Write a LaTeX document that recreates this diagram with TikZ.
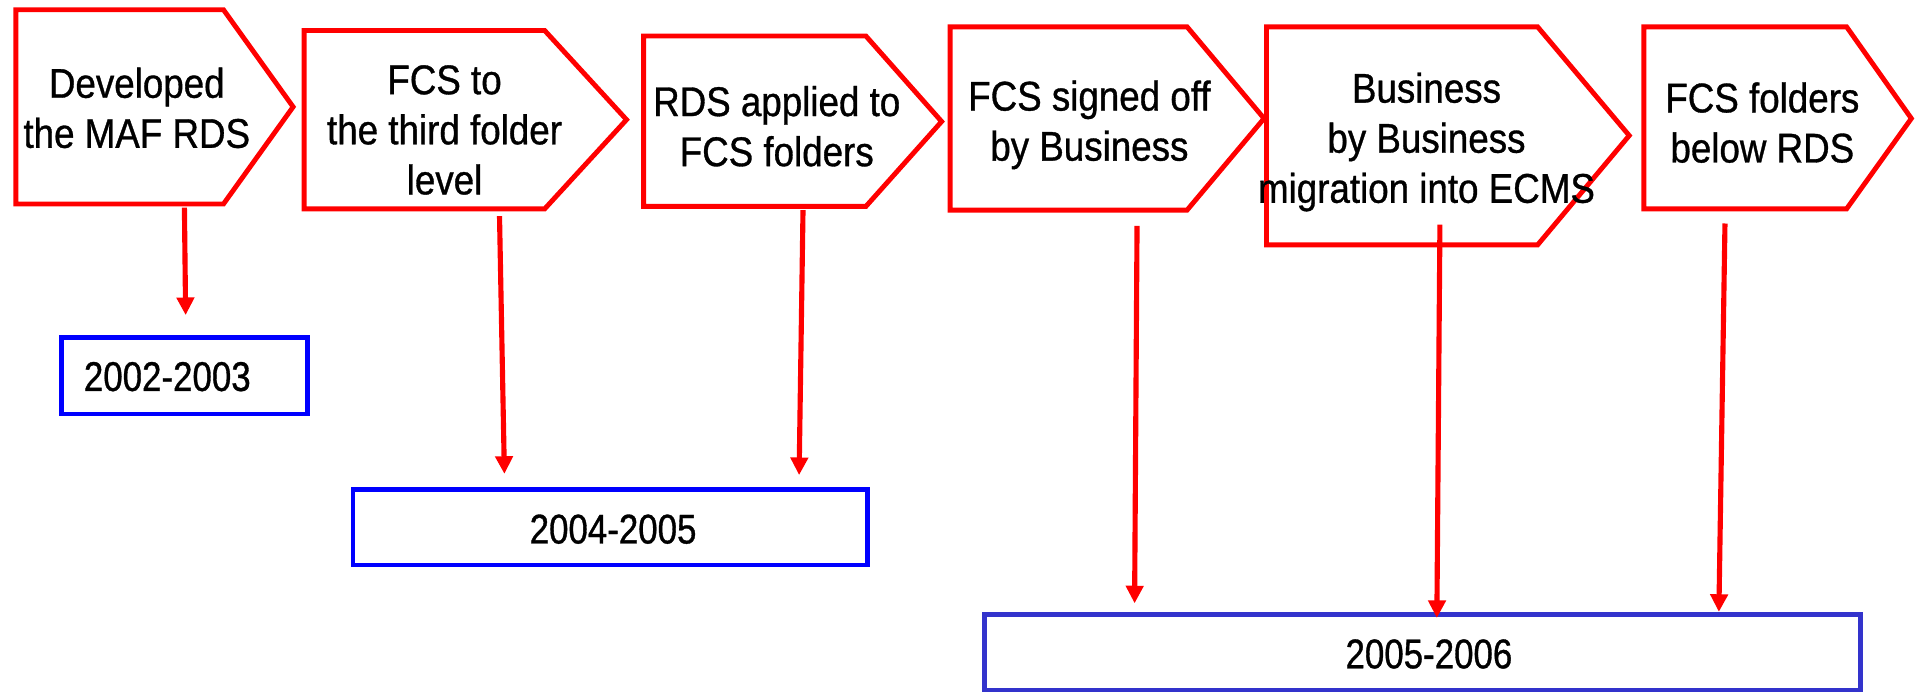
\documentclass[tikz,border=0pt]{standalone}
\usepackage{fontspec}
\setmainfont{Liberation Sans}[FakeStretch=0.885,FakeBold=0.8]
\newfontfamily\yearfont{Liberation Sans}[FakeStretch=0.84,FakeBold=0.8]
\usetikzlibrary{arrows.meta}
\definecolor{boxblue}{RGB}{0,0,255}
\definecolor{boxblueb}{RGB}{51,51,204}
\definecolor{stepred}{RGB}{255,0,0}
\begin{document}
\begin{tikzpicture}[x=0.5pt,y=-0.5pt,
  stepline/.style={draw=stepred, line width=2pt, fill=white, line join=miter},
  steptext/.style={align=center, anchor=north, font=\fontsize{17}{20.5}\selectfont, inner sep=0pt},
  yearbox/.style={draw=#1, line width=2pt, inner sep=0pt, fill=white},
  yeartext/.style={font=\yearfont\fontsize{17}{20.5}\selectfont, inner sep=0pt},
  conn/.style={draw=stepred, line width=2.1pt, -{Triangle[width=7pt,length=7.2pt]}}]
\useasboundingbox (0,0) rectangle (1568,567);

% step shapes
\draw[stepline] (13,8) -- (183,8) -- (240,87.5) -- (183,167) -- (13,167) -- cycle;
\draw[stepline] (249,25) -- (446,25) -- (513,98) -- (446,171) -- (249,171) -- cycle;
\draw[stepline] (527,29.5) -- (709,29.5) -- (771,99.5) -- (709,169) -- (527,169) -- cycle;
\draw[stepline] (778,22) -- (972,22) -- (1035,97) -- (972,172) -- (778,172) -- cycle;
\draw[stepline] (1037,22) -- (1259,22) -- (1334,111) -- (1259,200.5) -- (1037,200.5) -- cycle;
\draw[stepline] (1346,22) -- (1512,22) -- (1565,97) -- (1512,171) -- (1346,171) -- cycle;

% year boxes
\node[yearbox=boxblue, minimum width=100.5pt, minimum height=31.5pt] (b1) at (151,307.5) {};
\node[yearbox=boxblue, minimum width=210.5pt, minimum height=31pt] (b2) at (499.5,431.6) {};
\node[yearbox=boxblueb, minimum width=358.5pt, minimum height=31pt] (b3) at (1164.5,534) {};

\node[yeartext] (y1) at (137,308.4) {2002-2003};
\node[yeartext] (y2) at (502,433.3) {2004-2005};
\node[yeartext] (y3) at (1170,535.5) {2005-2006};

% connectors
\coordinate (a1s) at (151,170);  \coordinate (a1e) at (152,258);
\coordinate (a2s) at (409,177);  \coordinate (a2e) at (413,388);
\coordinate (a3s) at (657.5,172); \coordinate (a3e) at (654.3,389);
\coordinate (a4s) at (931,185);  \coordinate (a4e) at (929,494);
\coordinate (a5s) at (1179,184); \coordinate (a5e) at (1176.5,506);
\coordinate (a6s) at (1412.4,183); \coordinate (a6e) at (1407.4,501);
\draw[conn] (a1s) -- (a1e);
\draw[conn] (a2s) -- (a2e);
\draw[conn] (a3s) -- (a3e);
\draw[conn] (a4s) -- (a4e);
\draw[conn] (a5s) -- (a5e);
\draw[conn] (a6s) -- (a6e);

% step texts
\node[steptext] (t1) at (112,55) {Developed\\the MAF RDS};
\node[steptext] (t2) at (364,53) {FCS to\\the third folder\\level};
\node[steptext] (t3) at (636,70) {RDS applied to\\FCS folders};
\node[steptext] (t4) at (892,65.5) {FCS signed off\\by Business};
\node[steptext] (t5) at (1168,59) {Business\\by Business\\migration into ECMS};
\node[steptext] (t6) at (1443,67) {FCS folders\\below RDS};
\end{tikzpicture}
\end{document}
